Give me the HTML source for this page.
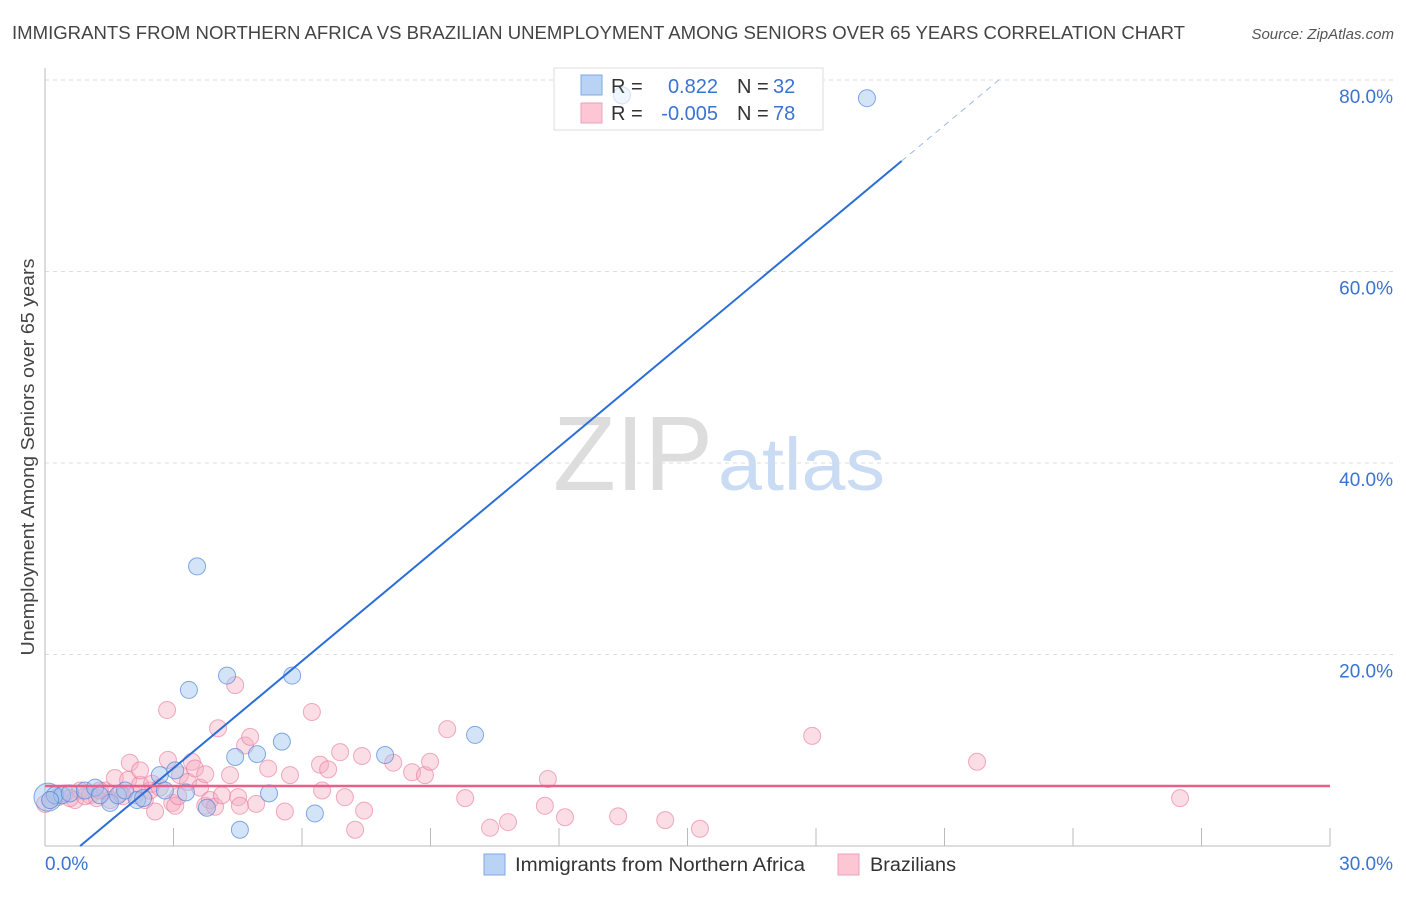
<!DOCTYPE html>
<html><head><meta charset="utf-8"><style>
body{margin:0;background:#fff;font-family:"Liberation Sans",sans-serif;}
svg text{font-family:"Liberation Sans",sans-serif;}
</style></head><body>
<svg id="chart" width="1406" height="892" viewBox="0 0 1406 892" xmlns="http://www.w3.org/2000/svg">
<text x="12" y="39" font-size="18" fill="#444" textLength="1173" lengthAdjust="spacingAndGlyphs">IMMIGRANTS FROM NORTHERN AFRICA VS BRAZILIAN UNEMPLOYMENT AMONG SENIORS OVER 65 YEARS CORRELATION CHART</text>
<text x="1394" y="39" font-size="15" fill="#555" font-style="italic" text-anchor="end">Source: ZipAtlas.com</text>
<g>
<text x="553" y="490" font-size="106" fill="#ddd" font-family="Liberation Serif,serif" textLength="160" lengthAdjust="spacingAndGlyphs">ZIP</text>
<text x="718" y="490" font-size="74" fill="#c9dcf3" textLength="167" lengthAdjust="spacingAndGlyphs">atlas</text>
</g>
<g id="grid"></g>
<g id="axes"></g>
<text transform="translate(34,457) rotate(-90)" font-size="18" fill="#444" text-anchor="middle" textLength="397" lengthAdjust="spacingAndGlyphs">Unemployment Among Seniors over 65 years</text>
<g>
<rect x="554" y="68" width="269" height="62" fill="#fff" stroke="#ddd"/>
<rect x="581" y="75" width="21" height="20" fill="#b9d3f5" stroke="#7eaae6"/>
<rect x="581" y="103" width="21" height="20" fill="#fcc6d4" stroke="#eca0b6"/>
<text x="611" y="93" font-size="20" fill="#333">R =</text>
<text x="718" y="93" font-size="20" fill="#3a73d0" text-anchor="end">0.822</text>
<text x="737" y="93" font-size="20" fill="#333">N =</text>
<text x="773" y="93" font-size="20" fill="#3a73d0">32</text>
<text x="611" y="120" font-size="20" fill="#333">R =</text>
<text x="718" y="120" font-size="20" fill="#3a73d0" text-anchor="end">-0.005</text>
<text x="737" y="120" font-size="20" fill="#333">N =</text>
<text x="773" y="120" font-size="20" fill="#3a73d0">78</text>
</g>
<g id="pts"></g>
<g id="lines"></g>
<g>
<g><rect x="484" y="854" width="21" height="21" fill="#b9d3f5" stroke="#7eaae6"/><text x="515" y="871" font-size="19" fill="#333" textLength="290" lengthAdjust="spacingAndGlyphs">Immigrants from Northern Africa</text></g>
<g><rect x="838" y="854" width="21" height="21" fill="#fcc6d4" stroke="#eca0b6"/><text x="870" y="871" font-size="19" fill="#333" textLength="86" lengthAdjust="spacingAndGlyphs">Brazilians</text></g>
</g>
</svg>
<script>
const xTicks=[0,3,6,9,12,15,18,21,24,27,30];
const yTicks=[20,40,60,80];
const blueX=[0.07,0.23,0.40,0.58,0.93,1.17,1.52,1.70,1.87,2.15,2.29,2.68,2.80,3.04,3.29,3.36,3.55,3.78,4.25,4.44,4.55,4.95,5.23,5.53,5.77,6.30,7.94,10.04,19.19,13.47,0.12,1.28];
const blueY=[5.1,5.3,5.3,5.5,5.8,6.1,4.5,5.3,5.8,4.8,5.0,7.4,5.8,7.9,5.6,16.3,29.2,4.0,17.8,9.3,1.7,9.6,5.5,10.9,17.8,3.4,9.5,11.6,78.1,78.4,4.8,5.3];
const pinkX=[0.12,0.30,0.47,0.70,0.82,1.05,1.21,1.40,1.52,1.63,1.75,1.94,1.98,2.10,2.22,2.33,2.45,2.50,2.57,2.68,2.85,2.87,2.97,3.04,3.15,3.34,3.43,3.50,3.62,3.74,3.85,3.97,4.04,4.13,4.32,4.44,4.51,4.55,4.67,4.79,4.93,5.21,5.60,5.72,6.23,6.42,6.47,6.61,6.89,7.00,7.24,7.40,7.45,8.13,8.57,8.87,8.99,9.39,9.81,10.39,10.81,11.67,11.74,12.14,13.38,14.48,15.29,17.91,21.76,26.50,0.0,0.58,0.93,1.28,1.82,2.22,3.11,3.74];
const pinkY=[4.8,5.1,5.5,4.8,5.8,5.3,5.0,5.8,4.8,7.1,5.5,6.9,8.7,5.3,6.4,4.8,5.8,6.5,3.6,6.1,14.2,9.0,4.5,4.2,7.4,6.7,8.8,8.1,6.1,4.2,4.8,4.1,12.3,5.3,7.4,16.8,5.1,4.2,10.5,11.4,4.4,8.1,3.6,7.4,14.0,8.5,5.8,8.0,9.8,5.1,1.7,9.4,3.7,8.7,7.7,7.4,8.8,12.2,5.0,1.9,2.5,4.2,7.0,3.0,3.1,2.7,1.8,11.5,8.8,5.0,4.4,5.0,5.2,5.8,5.2,7.9,5.2,7.5];
const blueFit=[3.73,-3.06]; // slope, intercept
const pinkFit=[0,6.27];
const NS='http://www.w3.org/2000/svg';
const X=v=>45+v/30*1285, Y=v=>846-v*9.575;
function mk(t,a,p){const e=document.createElementNS(NS,t);for(const k in a)e.setAttribute(k,a[k]);p.appendChild(e);return e;}
const grid=document.getElementById('grid'),axes=document.getElementById('axes');
yTicks.forEach(t=>{
 const l=mk('line',{x1:45,x2:1395,y1:Y(t),y2:Y(t),stroke:'#ddd','stroke-dasharray':'4,4'},grid);
 
 
 const tx=mk('text',{x:1393,y:Y(t)+23,'font-size':19,fill:'#3a73d0','text-anchor':'end'},axes);
 tx.textContent=t.toFixed(1)+'%';
 
 
});
mk('line',{x1:45,x2:45,y1:68,y2:846,stroke:'#bbb'},axes);
mk('line',{x1:45,x2:1330,y1:846,y2:846,stroke:'#bbb'},axes);
xTicks.forEach(t=>{const l=mk('line',{x1:X(t),x2:X(t),y1:828,y2:846,stroke:'#bbb'},axes);
 
 });
const t0=mk('text',{x:45,y:870,'font-size':19,fill:'#3a73d0'},axes);t0.textContent=xTicks[0].toFixed(1)+'%';


const t1=mk('text',{x:1393,y:870,'font-size':19,fill:'#3a73d0','text-anchor':'end'},axes);t1.textContent=xTicks[xTicks.length-1].toFixed(1)+'%';


const pts=document.getElementById('pts');
pinkX.forEach((x,i)=>{const c=mk('circle',{cx:X(x),cy:Y(pinkY[i]),r:8.5,fill:'rgba(246,170,192,0.4)',stroke:'rgba(230,120,155,0.6)','stroke-width':1},pts);
 
 });
blueX.forEach((x,i)=>{const c=mk('circle',{cx:X(x),cy:Y(blueY[i]),r:i==0?14:8.5,fill:'rgba(160,195,240,0.45)',stroke:'rgba(80,135,215,0.7)','stroke-width':1,opacity:i==29?0.35:1},pts);
 
 });
const lines=document.getElementById('lines');
const x0=-blueFit[1]/blueFit[0], xs=20.0, xe=22.3;
const b1=mk('line',{x1:X(x0),y1:Y(0),x2:X(xs),y2:Y(blueFit[0]*xs+blueFit[1]),stroke:'#2b6fd6','stroke-width':2},lines);


const b2=mk('line',{x1:X(xs),y1:Y(blueFit[0]*xs+blueFit[1]),x2:X(xe),y2:Y(blueFit[0]*xe+blueFit[1]),stroke:'#9dbbe8','stroke-width':1,'stroke-dasharray':'6,5'},lines);


const p1=mk('line',{x1:X(0),y1:Y(pinkFit[1]),x2:X(30),y2:Y(pinkFit[0]*30+pinkFit[1]),stroke:'#e8608a','stroke-width':2.5},lines);


</script>
</body></html>
